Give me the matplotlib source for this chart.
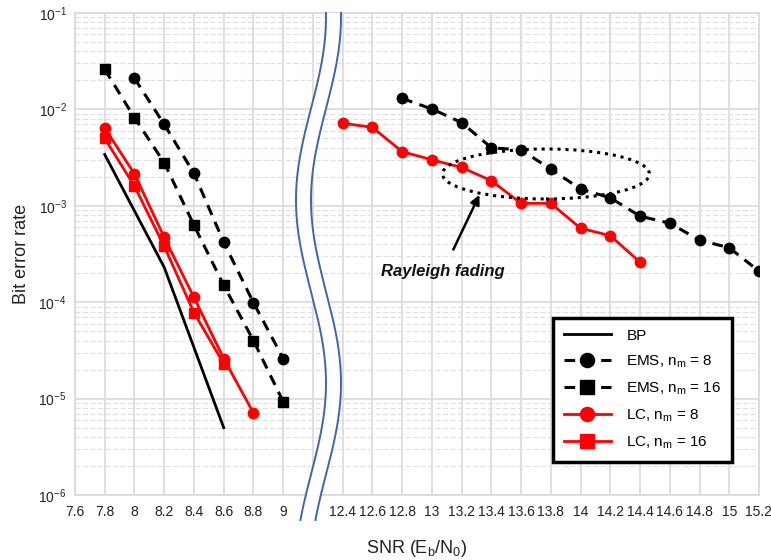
import numpy as np
import matplotlib
matplotlib.use("Agg")
import matplotlib.pyplot as plt
from matplotlib.patches import Ellipse
from matplotlib.ticker import LogLocator, FixedLocator, NullFormatter

plt.rcParams["font.family"] = ["Liberation Sans", "DejaVu Sans"]
plt.rcParams["mathtext.fontset"] = "custom"
plt.rcParams["mathtext.rm"] = "Liberation Sans"
plt.rcParams["mathtext.it"] = "Liberation Sans:italic"

# ── Data ──────────────────────────────────────────────────────────────────────
bp_snr = [7.8, 8.2, 8.6]
bp_ber = [3.4e-3, 2.3e-4, 5.0e-6]

ems8_snr = [8.0, 8.2, 8.4, 8.6, 8.8, 9.0,
            12.8, 13.0, 13.2, 13.4, 13.6, 13.8, 14.0, 14.2, 14.4, 14.6, 14.8, 15.0, 15.2]
ems8_ber = [2.1e-2, 7.0e-3, 2.17e-3, 4.2e-4, 9.9e-5, 2.6e-5,
            1.3e-2, 1.01e-2, 7.3e-3, 4.0e-3, 3.8e-3, 2.4e-3, 1.49e-3, 1.21e-3,
            7.8e-4, 6.6e-4, 4.4e-4, 3.67e-4, 2.1e-4]

ems16_snr = [7.8, 8.0, 8.2, 8.4, 8.6, 8.8, 9.0]
ems16_ber = [2.6e-2, 8.2e-3, 2.8e-3, 6.3e-4, 1.5e-4, 4.0e-5, 9.3e-6]

lc8_snr = [7.8, 8.0, 8.2, 8.4, 8.6, 8.8,
           12.4, 12.6, 12.8, 13.0, 13.2, 13.4, 13.6, 13.8, 14.0, 14.2, 14.4]
lc8_ber = [6.4e-3, 2.14e-3, 4.7e-4, 1.12e-4, 2.6e-5, 7.1e-6,
           7.2e-3, 6.5e-3, 3.65e-3, 3.0e-3, 2.5e-3, 1.82e-3, 1.06e-3, 1.06e-3,
           5.85e-4, 4.9e-4, 2.6e-4]

lc16_snr = [7.8, 8.0, 8.2, 8.4, 8.6]
lc16_ber = [5.0e-3, 1.6e-3, 3.8e-4, 7.8e-5, 2.3e-5]

left_ticks = [7.6, 7.8, 8.0, 8.2, 8.4, 8.6, 8.8, 9.0]
right_ticks = [12.4, 12.6, 12.8, 13.0, 13.2, 13.4, 13.6, 13.8, 14.0,
               14.2, 14.4, 14.6, 14.8, 15.0, 15.2]
GAP_MID = 10.7


# broken x axis: 7.6-9 and 12.4-15.2 on one uniform grid, gap takes 2 steps
def fwd(x):
    x = np.asarray(x, dtype=float)
    return np.where(x <= 9.0, (x - 7.6) / 0.2,
                    np.where(x >= 12.4, 9 + (x - 12.4) / 0.2,
                             7 + (x - 9.0) / 3.4 * 2))


def inv(p):
    p = np.asarray(p, dtype=float)
    return np.where(p <= 7, 7.6 + p * 0.2,
                    np.where(p >= 9, 12.4 + (p - 9) * 0.2,
                             9.0 + (p - 7) / 2 * 3.4))


def split_gap(snr, ber):
    # put a NaN between the two sides so the line does not cross the break
    xs, ys = [], []
    for i, (s, b) in enumerate(zip(snr, ber)):
        if i and s - snr[i - 1] > 1:
            xs.append(np.nan)
            ys.append(np.nan)
        xs.append(s)
        ys.append(b)
    return xs, ys


W, H = 771, 560
fig = plt.figure(figsize=(W / 100, H / 100), dpi=100)
ax = fig.add_axes([75 / W, 1 - 495 / H, 684 / W, 482 / H])
ax.set_xscale("function", functions=(fwd, inv))
ax.set_yscale("log")

GRID = "#d9d9d9"
RED = "#ff0000"
DASH = (0, (3.5, 2.5))

ax.plot(*split_gap(bp_snr, bp_ber), color="black", lw=2.0, label="BP", zorder=5)
ax.plot(*split_gap(ems8_snr, ems8_ber), color="black", lw=2.2, ls=DASH,
        marker="o", ms=7.5, label=r"EMS, n$_\mathrm{m}$ = 8", zorder=5)
ax.plot(*split_gap(ems16_snr, ems16_ber), color="black", lw=2.2, ls=DASH,
        marker="s", ms=7, label=r"EMS, n$_\mathrm{m}$ = 16", zorder=5)
ax.plot(*split_gap(lc8_snr, lc8_ber), color=RED, lw=2.0, marker="o", ms=7.5,
        label=r"LC, n$_\mathrm{m}$ = 8", zorder=6)
ax.plot(*split_gap(lc16_snr, lc16_ber), color=RED, lw=2.0, marker="s", ms=7,
        label=r"LC, n$_\mathrm{m}$ = 16", zorder=6)

# ── Axes, ticks, grid ─────────────────────────────────────────────────────────
ax.set_xlim(7.6, 15.2)
ax.set_ylim(1e-6, 1e-1)
xt = left_ticks + [GAP_MID] + right_ticks
ax.xaxis.set_major_locator(FixedLocator(xt))
ax.set_xticklabels([f"{v:g}" for v in left_ticks] + [""] +
                   [f"{v:g}" for v in right_ticks])
ax.xaxis.set_minor_locator(FixedLocator([]))
ax.yaxis.set_minor_locator(LogLocator(base=10, subs=np.arange(2, 10), numticks=20))
ax.yaxis.set_minor_formatter(NullFormatter())
ax.set_yticks([10.0 ** e for e in range(-6, 0)])
ax.set_yticklabels([r"10$^{\mathrm{%d}}$" % e for e in range(-6, 0)])
ax.tick_params(axis="both", which="both", length=0, labelsize=10,
               labelcolor="#222222")
ax.tick_params(axis="x", pad=7)
ax.tick_params(axis="y", pad=6)

ax.grid(True, which="major", axis="both", color=GRID, lw=1.2, zorder=0)
ax.grid(True, which="minor", axis="y", color="#e0e0e0", lw=0.9,
        ls=(0, (4, 2)), zorder=0)
ax.set_axisbelow(True)
for sp in ax.spines.values():
    sp.set_color(GRID)
    sp.set_linewidth(1.2)

ax.set_xlabel(r"SNR (E$_\mathrm{b}$/N$_0$)", fontsize=13, labelpad=14,
              color="#222222")
ax.set_ylabel("Bit error rate", fontsize=13, labelpad=6, color="#222222")

# ── Rayleigh fading annotation ───────────────────────────────────────────────
ax.add_patch(Ellipse((0.6886, 0.666), 0.3026, 0.1037, transform=ax.transAxes,
                     fill=False, ec="black", lw=2.2, ls=(0, (1, 1.6)), zorder=7))
ax.annotate("Rayleigh fading", xy=(13.32, 1.3e-3), xytext=(13.075, 2.1e-4),
            fontsize=12, fontweight="bold", fontstyle="italic",
            ha="center", va="center", color="#111111",
            arrowprops=dict(arrowstyle="-|>", color="black", lw=1.8,
                            mutation_scale=14, shrinkA=9, shrinkB=0),
            zorder=8)

# ── Legend ────────────────────────────────────────────────────────────────────
leg = ax.legend(loc="upper left", bbox_to_anchor=(553 / W, 1 - 318 / H),
                bbox_transform=fig.transFigure, fontsize=11, frameon=True,
                fancybox=False, framealpha=1, edgecolor="black",
                handlelength=3.1, handletextpad=1.0, labelspacing=0.7,
                borderpad=0.7, borderaxespad=0, markerscale=1.35)
leg.get_frame().set_linewidth(2.5)
leg.set_zorder(10)

# ── Wavy axis break ───────────────────────────────────────────────────────────
py = np.linspace(13, 520, 300)
xl = 311 + 15 * np.cos(np.pi * (py - 17) / 183)
xr = xl + 15
fy = 1 - py / H
fig.patches.append(plt.Polygon(
    np.column_stack([np.r_[xl, xr[::-1]] / W, np.r_[fy, fy[::-1]]]),
    closed=True, transform=fig.transFigure, fc="white", ec="none", zorder=20))
for xc in (xl, xr):
    fig.lines.append(plt.Line2D(xc / W, fy, transform=fig.transFigure,
                                color="#4065a8", lw=1.4, zorder=21))

fig.savefig("out.png", dpi=100, facecolor="white")
